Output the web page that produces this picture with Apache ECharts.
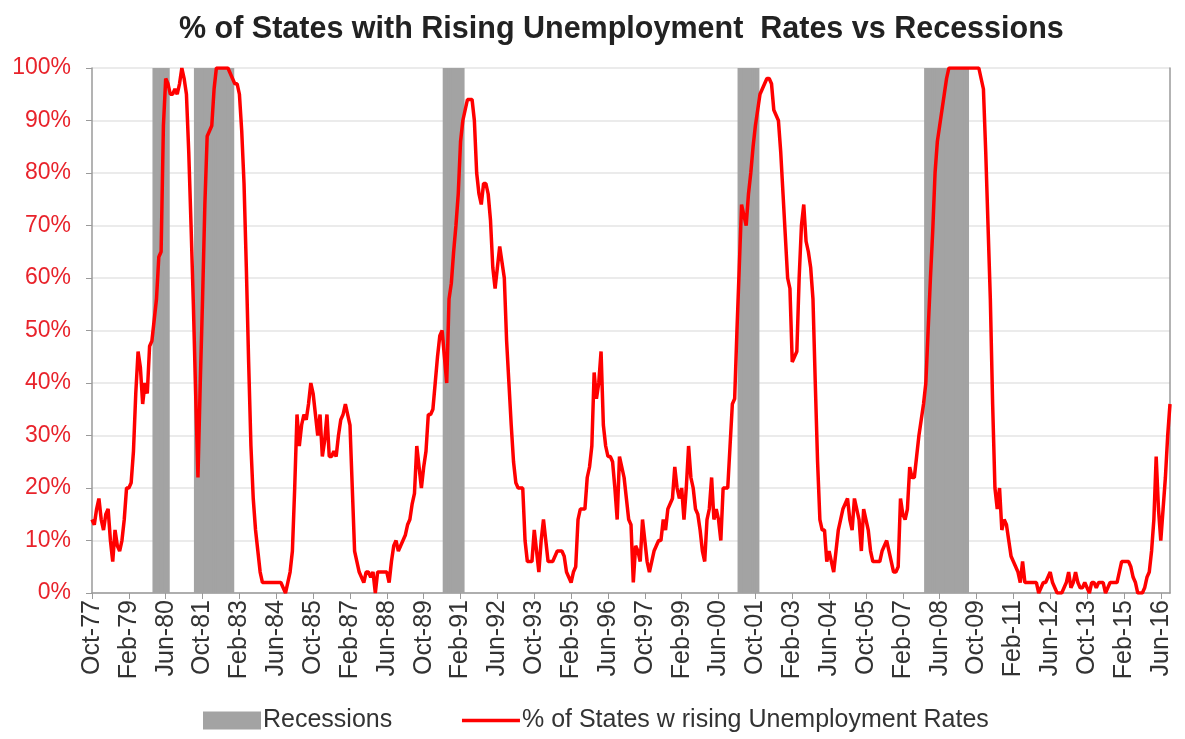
<!DOCTYPE html>
<html>
<head>
<meta charset="utf-8">
<script src="https://cdn.jsdelivr.net/npm/echarts@6/dist/echarts.min.js"></script>
<style>
  html, body { margin: 0; padding: 0; background: #fff; }
  #chart { width: 1185px; height: 739px; }
</style>
</head>
<body>
<div id="chart"></div>
<script>
// monthly % of states with rising unemployment, Oct-77 .. Oct-16
const risingShare = [
  14, 13, 16,                                         // 1977 (Oct-Dec)
  18, 14, 12, 15, 16, 10, 6, 12, 9, 8, 10, 14,        // 1978
  20, 20, 21, 27, 38, 46, 43, 36, 40, 38, 47, 48,     // 1979
  52, 56, 64, 65, 89, 98, 97, 95, 95, 96, 95, 97,     // 1980
  100, 98, 95, 84, 70, 55, 38, 22, 40, 56, 74, 87,    // 1981
  88, 89, 96, 100, 100, 100, 100, 100, 100, 99, 98, 97, // 1982
  97, 95, 88, 78, 62, 44, 28, 18, 12, 8, 4, 2,        // 1983
  2, 2, 2, 2, 2, 2, 2, 2, 1, 0, 2, 4,                 // 1984
  8, 20, 34, 28, 32, 34, 33, 36, 40, 38, 34, 30,      // 1985
  34, 26, 29, 34, 26, 26, 27, 26, 30, 33, 34, 36,     // 1986
  34, 32, 20, 8, 6, 4, 3, 2, 4, 4, 3, 4,              // 1987
  0, 4, 4, 4, 4, 4, 2, 6, 9, 10, 8, 9,                // 1988
  10, 11, 13, 14, 17, 19, 28, 24, 20, 24, 27, 34,     // 1989
  34, 35, 40, 45, 49, 50, 45, 40, 56, 59, 65, 70,     // 1990
  76, 86, 90, 92, 94, 94, 94, 90, 80, 76, 74, 78,     // 1991
  78, 76, 71, 62, 58, 62, 66, 63, 60, 48, 40, 32,     // 1992
  25, 21, 20, 20, 20, 10, 6, 6, 6, 12, 8, 4,          // 1993
  10, 14, 10, 6, 6, 6, 7, 8, 8, 8, 7, 4,              // 1994
  3, 2, 4, 5, 14, 16, 16, 16, 22, 24, 28, 42,         // 1995
  37, 40, 46, 32, 28, 26, 26, 25, 20, 14, 26, 24,     // 1996
  22, 18, 14, 13, 2, 9, 8, 6, 14, 10, 6, 4,           // 1997
  6, 8, 9, 10, 10, 14, 12, 16, 17, 18, 24, 20,        // 1998
  18, 20, 14, 20, 28, 22, 20, 16, 15, 12, 8, 6,       // 1999
  14, 16, 22, 14, 16, 14, 10, 20, 20, 20, 28, 36,     // 2000
  37, 50, 62, 74, 72, 70, 76, 80, 85, 89, 92, 95,     // 2001
  96, 97, 98, 98, 97, 92, 91, 90, 84, 76, 68, 60,     // 2002
  58, 44, 45, 46, 60, 70, 74, 67, 65, 62, 56, 40,     // 2003
  25, 14, 12, 12, 6, 8, 6, 4, 8, 12, 14, 16,          // 2004
  17, 18, 14, 12, 18, 16, 14, 8, 16, 14, 12, 8,       // 2005
  6, 6, 6, 6, 8, 9, 10, 8, 6, 4, 4, 5,                // 2006
  18, 15, 14, 16, 24, 22, 22, 26, 30, 33, 36, 40,     // 2007
  50, 60, 69, 80, 86, 89, 92, 95, 98, 100, 100, 100,  // 2008
  100, 100, 100, 100, 100, 100, 100, 100, 100, 100, 100, 98, // 2009
  96, 84, 70, 56, 36, 20, 16, 20, 12, 14, 13, 10,     // 2010
  7, 6, 5, 4, 2, 6, 2, 2, 2, 2, 2, 2,                 // 2011
  0, 1, 2, 2, 3, 4, 2, 1, 0, 0, 0, 1,                 // 2012
  2, 4, 1, 2, 4, 2, 1, 1, 2, 1, 0, 2,                 // 2013
  2, 1, 2, 2, 2, 0, 1, 2, 2, 2, 2, 4,                 // 2014
  6, 6, 6, 6, 5, 3, 2, 0, 0, 0, 1, 3,                 // 2015
  4, 8, 14, 26, 16, 10, 16, 22, 30, 36                // 2016 (Jan-Oct)
]

// NBER recessions, first and last month
const recessions = [
  ['Jan-80', 'Jul-80'],
  ['Jul-81', 'Nov-82'],
  ['Jul-90', 'Mar-91'],
  ['Mar-01', 'Nov-01'],
  ['Dec-07', 'Jun-09'],
]

const yTicks = [0, 10, 20, 30, 40, 50, 60, 70, 80, 90, 100]

const monthNames = ['Jan', 'Feb', 'Mar', 'Apr', 'May', 'Jun', 'Jul', 'Aug', 'Sep', 'Oct', 'Nov', 'Dec']
const startYear = 1977
const startMonth = 9 // Oct

// category labels like "Oct-77"
const months = risingShare.map((_, i) => {
  const m = (startMonth + i) % 12
  const y = startYear + Math.floor((startMonth + i) / 12)
  return monthNames[m] + '-' + String(y % 100).padStart(2, '0')
})

// 100 inside a recession, empty otherwise
const recessionBars = months.map((_, i) => {
  const hit = recessions.some(([a, b]) => i >= months.indexOf(a) && i <= months.indexOf(b))
  return hit ? 100 : '-'
})

const txt = "'Liberation Sans Narrow', 'Liberation Sans', Arial, sans-serif"
const grey = '#a3a3a3'
const chart = echarts.init(document.getElementById('chart'))

chart.setOption({
  animation: false,
  title: {
    text: '% of States with Rising Unemployment  Rates vs Recessions',
    left: 174,
    top: 9,
    textStyle: { fontFamily: txt, fontSize: 30.5, fontWeight: 'bold', color: '#222' },
  },
  legend: {
    left: 198,
    top: 703,
    itemWidth: 58,
    itemHeight: 18,
    itemGap: 68,
    textStyle: { fontFamily: txt, fontSize: 25, color: '#333', padding: [0, 0, 0, -3] },
    data: [
      { name: 'Recessions', icon: 'rect' },
      // hide the circle that a line legend adds by default
      {
        name: '% of States w rising Unemployment Rates',
        itemStyle: { opacity: 0 },
        lineStyle: { width: 3.5 },
      },
    ],
  },
  grid: { left: 92, right: 15, top: 68, bottom: 146 },
  xAxis: {
    type: 'category',
    data: months,
    boundaryGap: false,
    axisLine: { lineStyle: { color: '#9a9a9a', width: 1.5 } },
    axisTick: { interval: 15, length: 6, lineStyle: { color: '#9a9a9a' } },
    axisLabel: {
      interval: 15,
      rotate: 90,
      margin: 7,
      fontFamily: txt,
      fontSize: 25,
      color: '#333',
    },
    splitLine: { show: false },
  },
  yAxis: [
    {
      type: 'value',
      min: yTicks[0],
      max: yTicks[yTicks.length - 1],
      interval: 10,
      axisLine: { show: true, lineStyle: { color: '#9a9a9a', width: 1.5 } },
      axisTick: { show: true, length: 6, lineStyle: { color: '#9a9a9a' } },
      axisLabel: {
        formatter: '{value}%',
        fontFamily: txt,
        fontSize: 23,
        color: '#e8232b',
        margin: 21,
      },
      splitLine: { lineStyle: { color: '#e4e4e4', width: 1.5 } },
    },
    {
      // right frame line only
      type: 'value',
      position: 'right',
      min: 0,
      max: 100,
      interval: 100,
      axisLine: { show: true, lineStyle: { color: '#9a9a9a', width: 1.5 } },
      axisTick: { show: false },
      axisLabel: { show: false },
      splitLine: { show: false },
    },
  ],
  series: [
    {
      name: 'Recessions',
      type: 'bar',
      data: recessionBars,
      barGap: '-100%',
      // slightly wider than a month so neighbouring bars overlap with no seams
      barWidth: '150%',
      itemStyle: { color: grey },
      silent: true,
      z: 1,
    },
    {
      name: '% of States w rising Unemployment Rates',
      type: 'line',
      data: risingShare,
      symbol: 'none',
      lineStyle: { color: '#ff0000', width: 3.5 },
      itemStyle: { color: '#ff0000' },
      z: 3,
    },
  ],
})
</script>
</body>
</html>
